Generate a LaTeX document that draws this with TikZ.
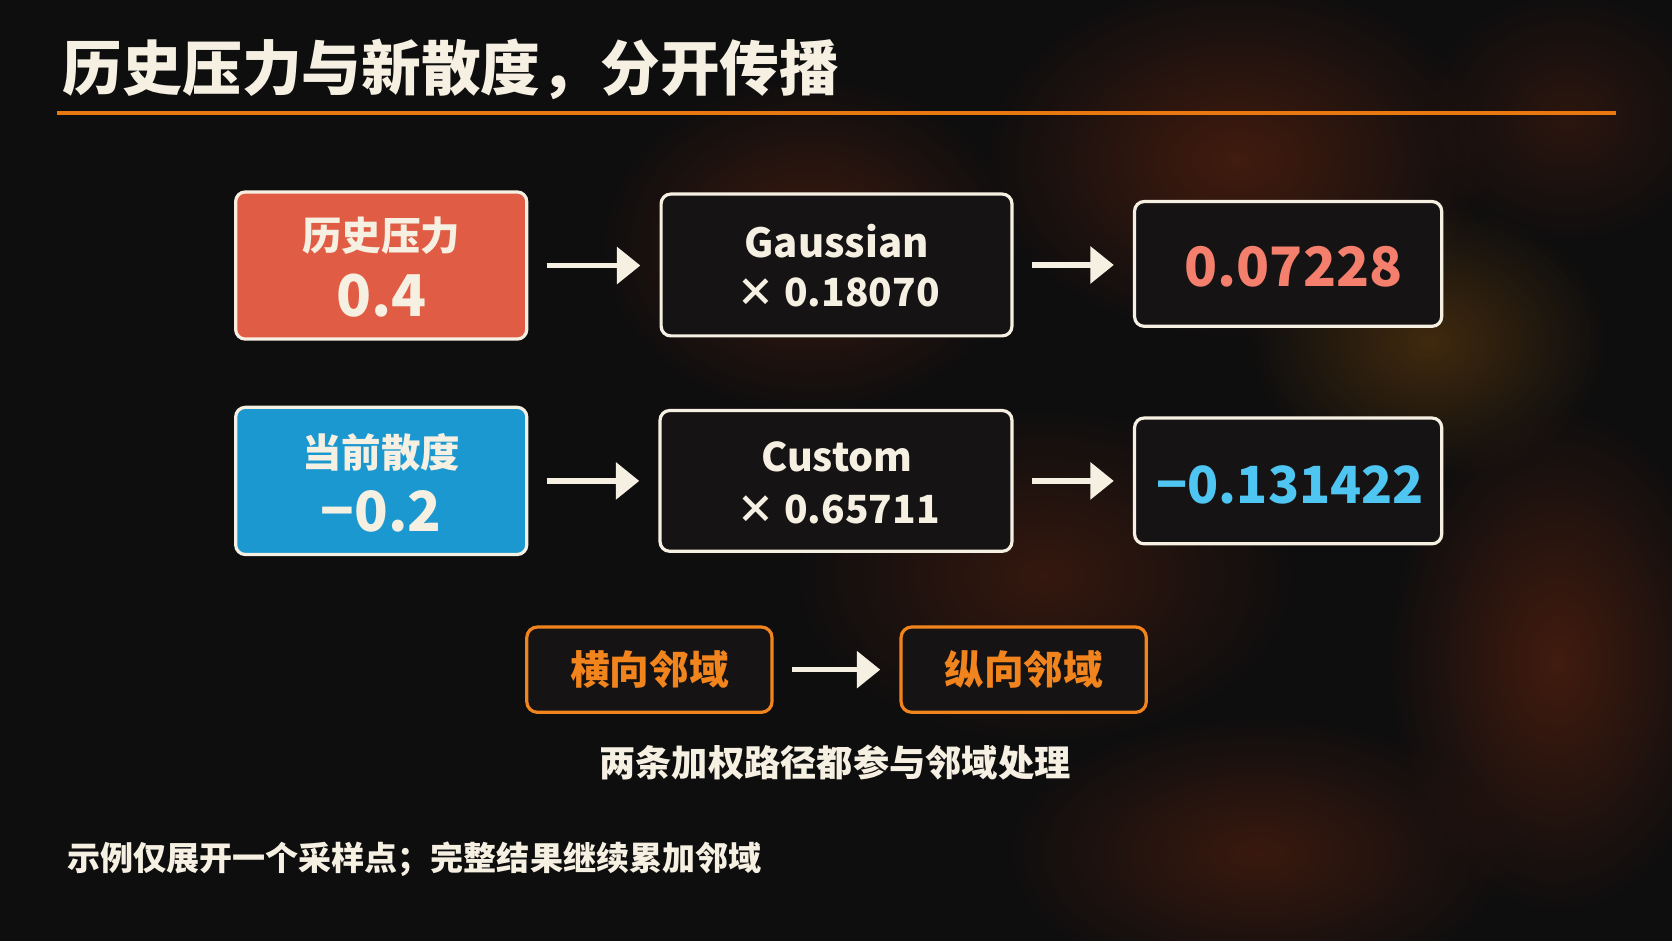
\documentclass[tikz,border=0pt]{standalone}
\usepackage{fontspec}
\setmainfont{Noto Sans CJK SC}
\usetikzlibrary{arrows.meta,fadings}

\definecolor{bgdark}{HTML}{0E0E0E}
\definecolor{cream}{HTML}{F6F0E3}
\definecolor{lineorange}{HTML}{E8780F}
\definecolor{histred}{HTML}{E15C45}
\definecolor{divblue}{HTML}{1B98CF}
\definecolor{boxdark}{HTML}{151313}
\definecolor{salmon}{HTML}{F37F6C}
\definecolor{skyblue}{HTML}{4FC6F2}
\definecolor{nborange}{HTML}{F2841E}
\definecolor{smoke}{HTML}{7A2A0E}
\definecolor{glow}{HTML}{9A5A10}

\tikzfading[name=softblob, inner color=transparent!20, outer color=transparent!100]

\newcommand{\fs}[1]{\fontsize{#1}{#1}\selectfont\bfseries}

\begin{document}
\begin{tikzpicture}[x=0.5pt,y=-0.5pt,
   valbox/.style={draw=cream,line width=1.5pt,rounded corners=4.5pt,inner sep=0pt},
   nbbox/.style={draw=nborange,fill=boxdark,line width=1.5pt,rounded corners=5pt,
      minimum width=115pt,minimum height=40pt,inner sep=0pt,text=nborange},
   flow/.style={cream,line width=2.6pt,-{Triangle[length=11pt,width=17pt]},
      shorten <=8.5pt,shorten >=9pt}]
   % background and smoke
   \fill[bgdark] (0,0) rectangle (1568,882.4);
   \useasboundingbox (0,0) rectangle (1568,882.4);
   \fill[smoke,opacity=0.55,path fading=softblob] (760,230) ellipse (200 and 160);
   \fill[smoke,opacity=0.6,path fading=softblob] (1160,150) ellipse (240 and 170);
   \fill[glow,opacity=0.45,path fading=softblob] (1340,320) ellipse (170 and 130);
   \fill[smoke,opacity=0.45,path fading=softblob] (980,540) ellipse (240 and 160);
   \fill[smoke,opacity=0.6,path fading=softblob] (1460,620) ellipse (160 and 240);
   \fill[smoke,opacity=0.5,path fading=softblob] (1180,800) ellipse (240 and 130);
   \fill[smoke,opacity=0.35,path fading=softblob] (1470,110) ellipse (140 and 120);
   % title
   \node[anchor=west,text=cream] (title) at (52,65) {\fs{28pt}历史压力与新散度，分开传播};
   \coordinate (ruleL) at (53,106);
   \coordinate (ruleR) at (1515,106);
   \draw[lineorange,line width=1.5pt] (ruleL) -- (ruleR);
   % first row
   \node[valbox,fill=histred,minimum width=136.5pt,minimum height=69pt] (hist) at (357.5,249) {};
   \node[text=cream] (histname) at (357.5,221) {\fs{18.5pt}历史压力};
   \node[text=cream] (histval) at (357.5,277) {\fs{27pt}0.4};
   \node[valbox,fill=boxdark,minimum width=164.5pt,minimum height=66.5pt] (gauss) at (784.5,248.5) {};
   \node[text=cream] (gaussname) at (784.5,226) {\fs{18.8pt}Gaussian};
   \node[text=cream] (gaussw) at (786,274) {\fs{18.2pt}× 0.18070};
   \node[valbox,fill=boxdark,minimum width=144pt,minimum height=58.5pt] (resA) at (1208,247.5) {};
   \node[text=salmon] (resAval) at (1213,250) {\fs{25.5pt}0.07228};
   % second row
   \node[valbox,fill=divblue,minimum width=136.5pt,minimum height=69pt] (div) at (357.5,451) {};
   \node[text=cream] (divname) at (357.5,424) {\fs{18.5pt}当前散度};
   \node[text=cream] (divval) at (357.5,480) {\fs{26pt}−0.2};
   \node[valbox,fill=boxdark,minimum width=165pt,minimum height=66pt] (custom) at (784,451) {};
   \node[text=cream] (customname) at (785,428) {\fs{18.5pt}Custom};
   \node[text=cream] (customw) at (786,478) {\fs{18.2pt}× 0.65711};
   \node[valbox,fill=boxdark,minimum width=144pt,minimum height=59pt] (resB) at (1208,451) {};
   \node[text=skyblue] (resBval) at (1210,455) {\fs{24pt}−0.131422};
   % arrows
   \draw[flow] (hist.east) -- (hist.east -| gauss.west);
   \draw[flow] (gauss.east) -- (gauss.east -| resA.west);
   \draw[flow] (div.east) -- (div.east -| custom.west);
   \draw[flow] (custom.east) -- (custom.east -| resB.west);
   % neighbourhood passes
   \node[nbbox] (horiz) at (609,628) {\fs{18.6pt}横向邻域};
   \node[nbbox] (vert) at (960,628) {\fs{18.6pt}纵向邻域};
   \draw[flow] (horiz) -- (vert);
   \node[text=cream] (caption) at (783,715) {\fs{17pt}两条加权路径都参与邻域处理};
   \node[anchor=west,text=cream] (foot) at (56,806) {\fs{15.5pt}示例仅展开一个采样点；完整结果继续累加邻域};
\end{tikzpicture}
\end{document}
